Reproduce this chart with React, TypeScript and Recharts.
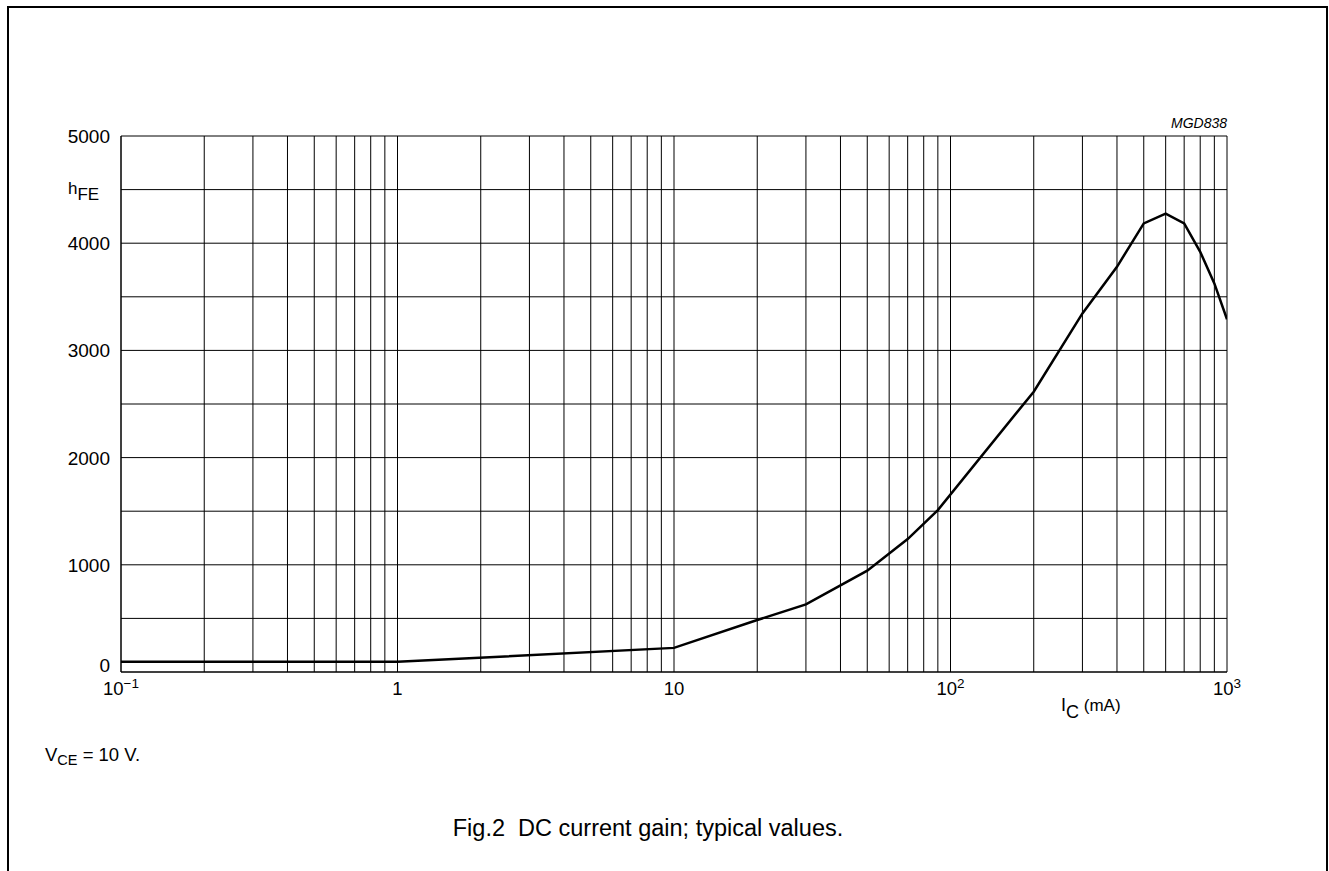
import React from "react";
import { CartesianGrid, Line, LineChart, XAxis, YAxis } from "recharts";

// collector current (mA) and typical hFE
const icValues = [0.1, 1, 10, 20, 30, 50, 70, 90, 200, 300, 400, 500, 600, 700, 800, 900, 1000];
const hfeValues = [95, 95, 225, 485, 630, 945, 1240, 1510, 2615, 3345, 3780, 4185, 4275, 4185, 3920, 3625, 3290];

// log grid: 1..9 in every decade
const xGridTicks = [
  0.1, 0.2, 0.3, 0.4, 0.5, 0.6, 0.7, 0.8, 0.9,
  1, 2, 3, 4, 5, 6, 7, 8, 9,
  10, 20, 30, 40, 50, 60, 70, 80, 90,
  100, 200, 300, 400, 500, 600, 700, 800, 900,
  1000,
];
const xLabelValues = [0.1, 1, 10, 100, 1000];
const xLabelBase = ["10", "1", "10", "10", "10"];
const xLabelExp = ["\u22121", "", "", "2", "3"];

const yGridTicks = [0, 500, 1000, 1500, 2000, 2500, 3000, 3500, 4000, 4500, 5000];
const yLabelValues = [0, 1000, 2000, 3000, 4000, 5000];

const data = icValues.map((ic, i) => ({ ic, hfe: hfeValues[i] }));

const FONT = "'Liberation Sans', Arial, sans-serif";

const renderXTick = (props: any) => {
  const { x, y, payload } = props;
  const idx = xLabelValues.findIndex((v) => Math.abs(v - payload.value) < 1e-9);
  if (idx < 0) return <g />;
  return (
    <text x={x} y={y + 23} textAnchor="middle" fontSize={18.5} fontFamily={FONT} fill="#000">
      {xLabelBase[idx]}
      {xLabelExp[idx] ? (
        <tspan dy={-7} fontSize={13.5}>
          {xLabelExp[idx]}
        </tspan>
      ) : null}
    </text>
  );
};

const renderYTick = (props: any) => {
  const { x, y, payload } = props;
  if (!yLabelValues.includes(payload.value)) return <g />;
  // the 0 label sits above the axis so it clears the x labels
  const dy = payload.value === 0 ? 0 : 7;
  return (
    <text x={x - 11} y={y + dy} textAnchor="end" fontSize={19} fontFamily={FONT} fill="#000">
      {payload.value}
    </text>
  );
};

export default function App() {
  return (
    <div style={{ position: "absolute", left: 0, top: 0, width: 1329, height: 871, overflow: "hidden", background: "#fff" }}>
      {/* page frame, open at the bottom */}
      <div
        style={{
          position: "absolute",
          left: 7,
          top: 6,
          width: 1317,
          height: 900,
          borderLeft: "2px solid #000",
          borderRight: "2px solid #000",
          borderTop: "2px solid #000",
        }}
      />
      <div style={{ position: "absolute", left: 0, top: 0 }}>
        <LineChart width={1329} height={871} data={data} margin={{ top: 136, right: 102, bottom: 0, left: 0 }}>
          <CartesianGrid stroke="#000" strokeWidth={1} />
          <XAxis
            dataKey="ic"
            type="number"
            scale="log"
            domain={[0.1, 1000]}
            ticks={xGridTicks}
            interval={0}
            allowDataOverflow
            height={199}
            tickLine={false}
            tickSize={0}
            tickMargin={0}
            axisLine={{ stroke: "#000" }}
            tick={renderXTick}
          />
          <YAxis
            type="number"
            domain={[0, 5000]}
            ticks={yGridTicks}
            interval={0}
            width={121}
            tickLine={false}
            tickSize={0}
            tickMargin={0}
            axisLine={{ stroke: "#000" }}
            tick={renderYTick}
          />
          <Line
            type="linear"
            dataKey="hfe"
            stroke="#000"
            strokeWidth={2.5}
            dot={false}
            isAnimationActive={false}
          />
        </LineChart>
      </div>
      <svg width={1329} height={871} style={{ position: "absolute", left: 0, top: 0, pointerEvents: "none" }}>
        <text x={1227} y={128} textAnchor="end" fontSize={14} fontStyle="italic" fontFamily={FONT}>
          MGD838
        </text>
        <text x={68} y={194} fontSize={17} fontFamily={FONT}>
          h
          <tspan dy={6}>FE</tspan>
        </text>
        <text x={1061} y={711} fontSize={18} fontFamily={FONT} style={{ whiteSpace: "pre" }}>
          I
          <tspan dy={7}>C</tspan>
          <tspan dy={-7} fontSize={17}>{" (mA)"}</tspan>
        </text>
        <text x={45} y={761} fontSize={18.5} fontFamily={FONT} style={{ whiteSpace: "pre" }}>
          V
          <tspan dy={4} fontSize={14.5}>CE</tspan>
          <tspan dy={-4}>{" = 10 V."}</tspan>
        </text>
        <text x={648} y={836} textAnchor="middle" fontSize={23.5} fontFamily={FONT} style={{ whiteSpace: "pre" }}>
          {"Fig.2  DC current gain; typical values."}
        </text>
      </svg>
    </div>
  );
}
